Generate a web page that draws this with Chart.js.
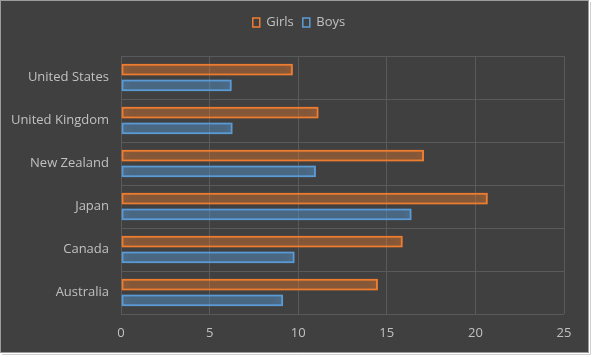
<!DOCTYPE html>
<html>
<head>
<meta charset="utf-8">
<script src="https://cdn.jsdelivr.net/npm/chart.js@4/dist/chart.umd.min.js"></script>
<style>
html,body{margin:0;padding:0;background:#ffffff;}
#wrap{position:relative;width:593px;height:357px;}
</style>
</head>
<body>
<div id="wrap"><canvas id="c" width="593" height="357"></canvas></div>
<script>
const categories = ['United States', 'United Kingdom', 'New Zealand', 'Japan', 'Canada', 'Australia'];
const girls = [9.7, 11.15, 17.1, 20.7, 15.9, 14.5];
const boys = [6.25, 6.3, 11.0, 16.4, 9.8, 9.15];
const xTicks = [0, 5, 10, 15, 20, 25];

const ORANGE = '#ED7D31';
const BLUE = '#5B9BD5';
const TEXT = '#c0c0c0';
const GRID = '#5a5a5a';
const FONT = "'Open Sans', 'Noto Sans', sans-serif";

const framePlugin = {
  id: 'frame',
  beforeDraw(chart) {
    const ctx = chart.ctx;
    ctx.save();
    ctx.fillStyle = '#ffffff';
    ctx.fillRect(0, 0, chart.width, chart.height);
    ctx.fillStyle = '#404040';
    ctx.fillRect(0, 0, 589, 353);
    ctx.strokeStyle = '#9c9c9c';
    ctx.lineWidth = 1;
    ctx.strokeRect(0.5, 0.5, 588, 352);
    ctx.strokeStyle = '#d0d0d0';
    ctx.beginPath();
    ctx.moveTo(590.5, 2); ctx.lineTo(590.5, 354.5); ctx.lineTo(2, 354.5);
    ctx.stroke();
    ctx.restore();
  },
  beforeLayout(chart) {
    const lg = chart.legend;
    if (lg && !lg._patched) {
      const f = lg.fit.bind(lg);
      lg.fit = function () { f(); this.height = 49; };
      lg._patched = true;
    }
  },
  afterLayout(chart) {
    const lg = chart.legend;
    if (lg) { lg.right = lg.right + 34; }
  },
  beforeDatasetDraw(chart, args) {
    const ctx = chart.ctx;
    ctx.save();
    ctx.shadowColor = args.index === 0 ? 'rgba(237,125,49,1)' : 'rgba(91,155,213,1)';
    ctx.shadowBlur = 7;
  },
  afterDatasetDraw(chart) {
    chart.ctx.restore();
  }
};

new Chart(document.getElementById('c'), {
  type: 'bar',
  data: {
    labels: categories,
    datasets: [
      {
        label: 'Girls',
        data: girls,
        backgroundColor: 'rgba(237,125,49,0.16)',
        borderColor: ORANGE,
        borderWidth: 2,
        borderSkipped: false,
        categoryPercentage: 0.73,
        barPercentage: 0.76
      },
      {
        label: 'Boys',
        data: boys,
        backgroundColor: 'rgba(91,155,213,0.2)',
        borderColor: BLUE,
        borderWidth: 2,
        borderSkipped: false,
        categoryPercentage: 0.73,
        barPercentage: 0.76
      }
    ]
  },
  options: {
    indexAxis: 'y',
    responsive: false,
    animation: false,
    devicePixelRatio: 1,
    layout: { padding: { left: 0, right: 29, top: 7, bottom: 0 } },
    plugins: {
      tooltip: { enabled: false },
      legend: {
        position: 'top',
        align: 'center',
        labels: {
          color: TEXT,
          font: { family: FONT, size: 13 },
          boxWidth: 7,
          boxHeight: 9,
          padding: 9,
          generateLabels(chart) {
            return chart.data.datasets.map((ds, i) => ({
              text: ds.label,
              fillStyle: 'rgba(0,0,0,0)',
              strokeStyle: ds.borderColor,
              lineWidth: 1.5,
              fontColor: TEXT,
              hidden: false,
              datasetIndex: i
            }));
          }
        }
      }
    },
    scales: {
      x: {
        min: 0,
        max: 25,
        afterBuildTicks(scale) { scale.ticks = xTicks.map(v => ({ value: v })); },
        afterFit(scale) { scale.height = 43; },
        grid: { color: GRID, lineWidth: 1, drawTicks: false },
        border: { display: false },
        ticks: { color: TEXT, font: { family: FONT, size: 13 }, padding: 11 }
      },
      y: {
        afterFit(scale) { scale.width = 121; },
        grid: { color: GRID, lineWidth: 1, drawTicks: false, offset: true },
        border: { display: false },
        ticks: { color: TEXT, font: { family: FONT, size: 13 }, padding: 12 }
      }
    }
  },
  plugins: [framePlugin]
});
</script>
</body>
</html>
